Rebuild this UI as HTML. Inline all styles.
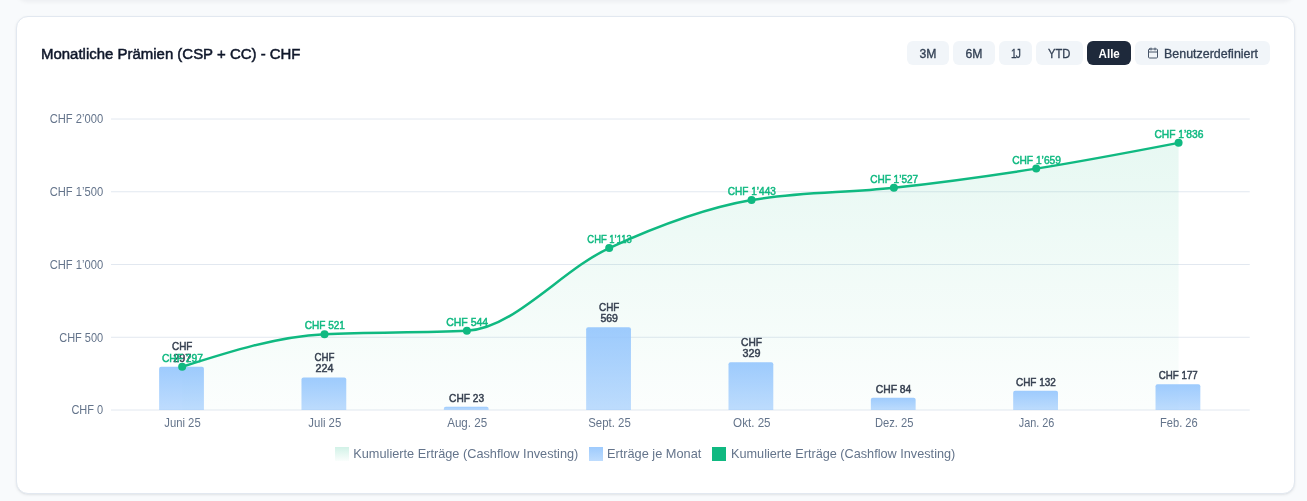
<!DOCTYPE html>
<html lang="de">
<head>
<meta charset="utf-8">
<title>Monatliche Prämien</title>
<style>
html,body{margin:0;padding:0;}
body{width:1307px;height:501px;overflow:hidden;background:#f8fafc;font-family:"Liberation Sans",sans-serif;position:relative;}
.card{position:absolute;left:16px;top:16px;width:1279px;height:478px;box-sizing:border-box;background:#fff;border:1px solid #e2e8f0;border-radius:12px;box-shadow:0 1px 3px rgba(15,23,42,0.08),0 1px 2px -1px rgba(15,23,42,0.08);}
.prev{position:absolute;left:16px;top:-20px;width:1279px;height:20px;border-radius:0 0 12px 12px;background:#fff;box-shadow:0 2px 4px rgba(15,23,42,0.05);}
.title{position:absolute;left:41px;top:44px;margin:0;font-size:15.2px;line-height:20px;font-weight:400;color:#0f172a;white-space:nowrap;-webkit-text-stroke:0.5px #0f172a;transform:scaleX(0.985);transform-origin:0 0;}
.btns{position:absolute;top:41px;left:907px;height:24px;display:flex;gap:4px;}
.btn{box-sizing:border-box;height:24px;border-radius:6px;background:#f1f5f9;color:#334155;font-size:12.2px;font-weight:400;line-height:24px;text-align:center;white-space:nowrap;-webkit-text-stroke:0.3px #334155;position:relative;}
.btn span{display:inline-block;position:relative;top:0.8px;}
.btn.on{background:#1e293b;color:#fff;font-weight:700;-webkit-text-stroke:0;}
.btn svg{position:absolute;left:12px;top:6px;}
.chart{position:absolute;left:0;top:0;}
.ax{font-family:"Liberation Sans",sans-serif;font-size:12.2px;fill:#64748b;}
.bl{font-family:"Liberation Sans",sans-serif;font-size:11px;font-weight:400;fill:#374151;stroke:#374151;stroke-width:0.5px;}
.ll{font-family:"Liberation Sans",sans-serif;font-size:11px;font-weight:400;fill:#10b981;stroke:#10b981;stroke-width:0.5px;}
.lg{font-family:"Liberation Sans",sans-serif;font-size:13.2px;fill:#64748b;}
</style>
</head>
<body>
<div class="prev"></div>
<div class="card"></div>
<h3 class="title">Monatliche Prämien (CSP + CC) - CHF</h3>
<div class="btns">
<div class="btn" style="width:42px"><span>3M</span></div>
<div class="btn" style="width:42px"><span>6M</span></div>
<div class="btn" style="width:33px"><span style="letter-spacing:-0.9px;transform:scaleX(0.84);margin-right:-0.9px">1J</span></div>
<div class="btn" style="width:47px"><span style="transform:scaleX(0.92)">YTD</span></div>
<div class="btn on" style="width:44px"><span style="transform:scaleX(0.95)">Alle</span></div>
<div class="btn" style="width:135px;padding-left:16.5px"><svg width="12" height="12" viewBox="0 0 24 24" fill="none" stroke="#475569" stroke-width="2" stroke-linecap="round" stroke-linejoin="round"><path d="M8 2v4"/><path d="M16 2v4"/><rect x="3" y="4" width="18" height="18" rx="2"/><path d="M3 10h18"/></svg><span style="transform:scaleX(1.02)">Benutzerdefiniert</span></div>
</div>
<svg class="chart" width="1307" height="501" viewBox="0 0 1307 501">
<defs>
<linearGradient id="gArea" x1="0" y1="142.86" x2="0" y2="410" gradientUnits="userSpaceOnUse"><stop offset="0" stop-color="#10b981" stop-opacity="0.10"/><stop offset="1" stop-color="#10b981" stop-opacity="0.015"/></linearGradient>
<linearGradient id="gBar" x1="0" y1="0" x2="0" y2="1"><stop offset="0" stop-color="#93c5fd" stop-opacity="0.9"/><stop offset="1" stop-color="#93c5fd" stop-opacity="0.6"/></linearGradient>
<linearGradient id="gLegA" x1="0" y1="0" x2="0" y2="1"><stop offset="0" stop-color="#10b981" stop-opacity="0.19"/><stop offset="1" stop-color="#10b981" stop-opacity="0.02"/></linearGradient>
</defs>
<g stroke="#e2e8f0" stroke-width="1">
<line x1="111" y1="119" x2="1249.75" y2="119"/>
<line x1="111" y1="191.75" x2="1249.75" y2="191.75"/>
<line x1="111" y1="264.5" x2="1249.75" y2="264.5"/>
<line x1="111" y1="337.25" x2="1249.75" y2="337.25"/>
<line x1="111" y1="410" x2="1249.75" y2="410"/>
</g>
<text class="ax" x="103.2" y="123" text-anchor="end" textLength="53.5" lengthAdjust="spacingAndGlyphs">CHF 2’000</text>
<text class="ax" x="103.2" y="196" text-anchor="end" textLength="53.5" lengthAdjust="spacingAndGlyphs">CHF 1’500</text>
<text class="ax" x="103.2" y="269" text-anchor="end" textLength="53.5" lengthAdjust="spacingAndGlyphs">CHF 1’000</text>
<text class="ax" x="103.2" y="341.7" text-anchor="end" textLength="44" lengthAdjust="spacingAndGlyphs">CHF 500</text>
<text class="ax" x="103.2" y="414" text-anchor="end" textLength="31.8" lengthAdjust="spacingAndGlyphs">CHF 0</text>
<path d="M182.17 366.79 C229.62 351.61 277.07 336.43 324.52 334.19 C371.96 331.96 419.41 333.08 466.86 330.85 C514.31 328.62 561.76 269.86 609.2 248.06 C656.65 226.26 704.1 208.19 751.55 200.04 C798.99 191.9 846.44 193.06 893.89 187.82 C941.34 182.58 988.79 176.11 1036.23 168.62 C1083.68 161.12 1131.13 151.99 1178.58 142.86 L1178.58 410 L182.17 410 Z" fill="url(#gArea)"/>
<path d="M159.12 410 L159.12 368.79 Q159.12 366.79 161.12 366.79 L201.92 366.79 Q203.92 366.79 203.92 368.79 L203.92 410 Z" fill="url(#gBar)"/>
<path d="M301.47 410 L301.47 379.41 Q301.47 377.41 303.47 377.41 L344.27 377.41 Q346.27 377.41 346.27 379.41 L346.27 410 Z" fill="url(#gBar)"/>
<path d="M443.81 410 L443.81 408.65 Q443.81 406.65 445.81 406.65 L486.61 406.65 Q488.61 406.65 488.61 408.65 L488.61 410 Z" fill="url(#gBar)"/>
<path d="M586.15 410 L586.15 329.21 Q586.15 327.21 588.15 327.21 L628.95 327.21 Q630.95 327.21 630.95 329.21 L630.95 410 Z" fill="url(#gBar)"/>
<path d="M728.5 410 L728.5 364.13 Q728.5 362.13 730.5 362.13 L771.3 362.13 Q773.3 362.13 773.3 364.13 L773.3 410 Z" fill="url(#gBar)"/>
<path d="M870.84 410 L870.84 399.78 Q870.84 397.78 872.84 397.78 L913.64 397.78 Q915.64 397.78 915.64 399.78 L915.64 410 Z" fill="url(#gBar)"/>
<path d="M1013.18 410 L1013.18 392.79 Q1013.18 390.79 1015.18 390.79 L1055.98 390.79 Q1057.98 390.79 1057.98 392.79 L1057.98 410 Z" fill="url(#gBar)"/>
<path d="M1155.53 410 L1155.53 386.25 Q1155.53 384.25 1157.53 384.25 L1198.33 384.25 Q1200.33 384.25 1200.33 386.25 L1200.33 410 Z" fill="url(#gBar)"/>
<path d="M182.17 366.79 C229.62 351.61 277.07 336.43 324.52 334.19 C371.96 331.96 419.41 333.08 466.86 330.85 C514.31 328.62 561.76 269.86 609.2 248.06 C656.65 226.26 704.1 208.19 751.55 200.04 C798.99 191.9 846.44 193.06 893.89 187.82 C941.34 182.58 988.79 176.11 1036.23 168.62 C1083.68 161.12 1131.13 151.99 1178.58 142.86" fill="none" stroke="#10b981" stroke-width="2.5" stroke-linejoin="round" stroke-linecap="round"/>
<g fill="#10b981">
<circle cx="182.17" cy="366.79" r="4"/>
<circle cx="324.52" cy="334.19" r="4"/>
<circle cx="466.86" cy="330.85" r="4"/>
<circle cx="609.2" cy="248.06" r="4"/>
<circle cx="751.55" cy="200.04" r="4"/>
<circle cx="893.89" cy="187.82" r="4"/>
<circle cx="1036.23" cy="168.62" r="4"/>
<circle cx="1178.58" cy="142.86" r="4"/>
</g>
<text class="ax" x="182.47" y="426.6" text-anchor="middle" textLength="36.4" lengthAdjust="spacingAndGlyphs">Juni 25</text>
<text class="ax" x="324.82" y="426.6" text-anchor="middle" textLength="32.9" lengthAdjust="spacingAndGlyphs">Juli 25</text>
<text class="ax" x="467.16" y="426.6" text-anchor="middle" textLength="40" lengthAdjust="spacingAndGlyphs">Aug. 25</text>
<text class="ax" x="609.5" y="426.6" text-anchor="middle" textLength="42.5" lengthAdjust="spacingAndGlyphs">Sept. 25</text>
<text class="ax" x="751.85" y="426.6" text-anchor="middle" textLength="37.5" lengthAdjust="spacingAndGlyphs">Okt. 25</text>
<text class="ax" x="894.19" y="426.6" text-anchor="middle" textLength="38.5" lengthAdjust="spacingAndGlyphs">Dez. 25</text>
<text class="ax" x="1036.53" y="426.6" text-anchor="middle" textLength="35.6" lengthAdjust="spacingAndGlyphs">Jan. 26</text>
<text class="ax" x="1178.88" y="426.6" text-anchor="middle" textLength="37.7" lengthAdjust="spacingAndGlyphs">Feb. 26</text>
<text class="bl" x="182.17" y="350.49" text-anchor="middle" textLength="20.3" lengthAdjust="spacingAndGlyphs">CHF</text>
<text class="bl" x="182.17" y="361.69" text-anchor="middle" textLength="18" lengthAdjust="spacingAndGlyphs">297</text>
<text class="bl" x="324.52" y="361.11" text-anchor="middle" textLength="20" lengthAdjust="spacingAndGlyphs">CHF</text>
<text class="bl" x="324.52" y="372.31" text-anchor="middle" textLength="18" lengthAdjust="spacingAndGlyphs">224</text>
<text class="bl" x="466.56" y="401.85" text-anchor="middle" textLength="35" lengthAdjust="spacingAndGlyphs">CHF 23</text>
<text class="bl" x="609.2" y="310.91" text-anchor="middle" textLength="20.3" lengthAdjust="spacingAndGlyphs">CHF</text>
<text class="bl" x="609.2" y="322.11" text-anchor="middle" textLength="17.5" lengthAdjust="spacingAndGlyphs">569</text>
<text class="bl" x="751.55" y="345.83" text-anchor="middle" textLength="20.9" lengthAdjust="spacingAndGlyphs">CHF</text>
<text class="bl" x="751.55" y="357.03" text-anchor="middle" textLength="18" lengthAdjust="spacingAndGlyphs">329</text>
<text class="bl" x="893.59" y="392.98" text-anchor="middle" textLength="35.5" lengthAdjust="spacingAndGlyphs">CHF 84</text>
<text class="bl" x="1035.93" y="385.99" text-anchor="middle" textLength="39.9" lengthAdjust="spacingAndGlyphs">CHF 132</text>
<text class="bl" x="1178.28" y="379.45" text-anchor="middle" textLength="38.9" lengthAdjust="spacingAndGlyphs">CHF 177</text>
<text class="ll" x="182.47" y="361.79" text-anchor="middle" textLength="41" lengthAdjust="spacingAndGlyphs">CHF 297</text>
<text class="ll" x="324.82" y="329.19" text-anchor="middle" textLength="40.3" lengthAdjust="spacingAndGlyphs">CHF 521</text>
<text class="ll" x="467.16" y="325.85" text-anchor="middle" textLength="42" lengthAdjust="spacingAndGlyphs">CHF 544</text>
<text class="ll" x="609.5" y="243.06" text-anchor="middle" textLength="44.3" lengthAdjust="spacingAndGlyphs">CHF 1’113</text>
<text class="ll" x="751.85" y="195.04" text-anchor="middle" textLength="48" lengthAdjust="spacingAndGlyphs">CHF 1’443</text>
<text class="ll" x="894.19" y="182.82" text-anchor="middle" textLength="47.9" lengthAdjust="spacingAndGlyphs">CHF 1’527</text>
<text class="ll" x="1036.53" y="163.62" text-anchor="middle" textLength="48.8" lengthAdjust="spacingAndGlyphs">CHF 1’659</text>
<text class="ll" x="1178.88" y="137.86" text-anchor="middle" textLength="49" lengthAdjust="spacingAndGlyphs">CHF 1’836</text>
<rect x="335" y="447" width="14" height="14" fill="url(#gLegA)"/>
<text class="lg" x="353.3" y="458" text-anchor="start" textLength="225" lengthAdjust="spacingAndGlyphs">Kumulierte Erträge (Cashflow Investing)</text>
<rect x="589" y="447" width="14" height="14" fill="url(#gBar)"/>
<text class="lg" x="606.9" y="458" text-anchor="start" textLength="94.5" lengthAdjust="spacingAndGlyphs">Erträge je Monat</text>
<rect x="712" y="447" width="14" height="14" fill="#10b981"/>
<text class="lg" x="731" y="458" text-anchor="start" textLength="224.3" lengthAdjust="spacingAndGlyphs">Kumulierte Erträge (Cashflow Investing)</text>
</svg>
</body>
</html>
